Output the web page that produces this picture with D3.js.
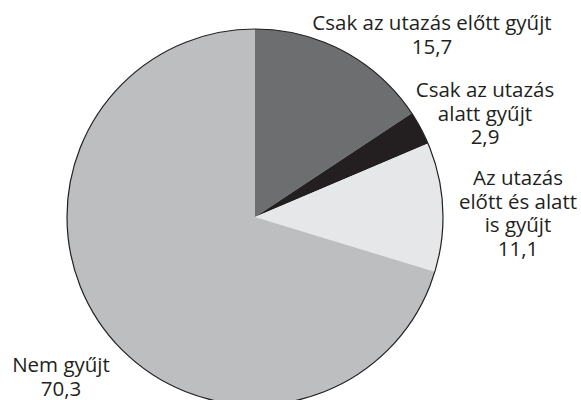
<!DOCTYPE html>
<html>
<head>
<meta charset="utf-8">
<script src="https://cdn.jsdelivr.net/npm/d3@7"></script>
<style>
  html, body { margin: 0; padding: 0; background: #fff; }
  svg { display: block; }
  .lbl { font-family: "Open Sans", sans-serif; font-size: 20.5px; fill: #231f20; }
</style>
</head>
<body>
<div id="chart"></div>
<script>
const categories = [
  ['Csak az utazás előtt gyűjt'],
  ['Csak az utazás', 'alatt gyűjt'],
  ['Az utazás', 'előtt és alatt', 'is gyűjt'],
  ['Nem gyűjt']
];
const values = [15.7, 2.9, 11.1, 70.3];
const sliceColors = ['#6d6e70', '#231f20', '#e6e7e8', '#bcbec0'];

// label anchors (centre x, first baseline y)
const labelPos = [
  [432, 30],
  [485, 97],
  [518, 185],
  [61, 372]
];

const width = 581, height = 400;
const cx = 255, cy = 217, radius = 188;
const lineH = 23.5;

const svg = d3.select('#chart').append('svg')
  .attr('width', width)
  .attr('height', height);

const pie = d3.pie().sort(null).value(d => d);
const arc = d3.arc().innerRadius(0).outerRadius(radius);

const g = svg.append('g').attr('transform', `translate(${cx},${cy})`);

g.selectAll('path.slice')
  .data(pie(values))
  .enter()
  .append('path')
  .attr('class', 'slice')
  .attr('d', arc)
  .attr('fill', (d, i) => sliceColors[i]);

g.append('circle')
  .attr('r', radius)
  .attr('fill', 'none')
  .attr('stroke', '#231f20')
  .attr('stroke-width', 1.2);

const fmt = v => v.toFixed(1).replace('.', ',');

categories.forEach((lines, i) => {
  const t = svg.append('text')
    .attr('class', 'lbl')
    .attr('text-anchor', 'middle');
  const all = lines.concat([fmt(values[i])]);
  all.forEach((s, j) => {
    t.append('tspan')
      .attr('x', labelPos[i][0])
      .attr('y', labelPos[i][1] + j * lineH)
      .text(s);
  });
});
</script>
</body>
</html>
